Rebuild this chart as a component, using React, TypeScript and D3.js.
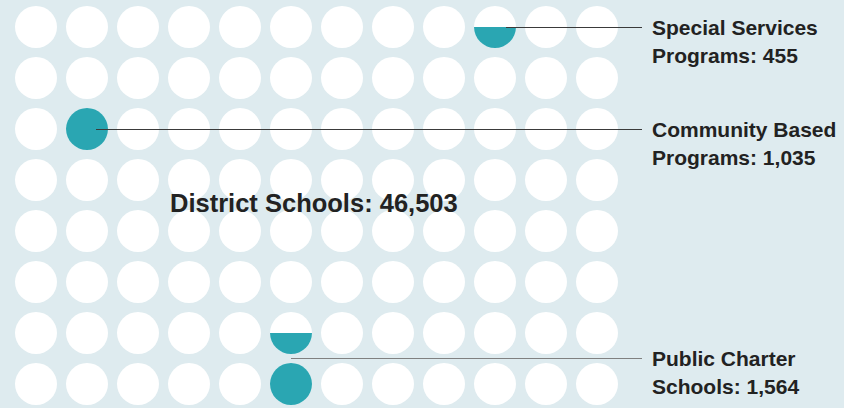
import React from "react";
import * as d3 from "d3";

const COLS = 12;
const ROWS = 8;
const categories = ["Special Services Programs", "Community Based Programs", "Public Charter Schools"];
const labelLines = [
  ["Special Services", "Programs: 455"],
  ["Community Based", "Programs: 1,035"],
  ["Public Charter", "Schools: 1,564"],
];
// [categoryIndex, col, row, filled fraction (from bottom)]
const highlightCells: [number, number, number, number][] = [
  [0, 9, 0, 0.5],
  [1, 1, 2, 1],
  [2, 5, 6, 0.5],
  [2, 5, 7, 1],
];
// leader line anchor: [col, row (cell units), start x offset]
const leaderAnchors: [number, number, number][] = [
  [9, 0, 11],
  [1, 2, 9],
  [5, 6.5, 0],
];
const mainLabel = "District Schools: 46,503";

const W = 844;
const H = 408;

export default function App() {
  const x = d3.scaleLinear().domain([0, COLS - 1]).range([36, 597]);
  const y = d3.scaleLinear().domain([0, ROWS - 1]).range([27, 384]);
  const r = 21;
  const cells = d3.cross(d3.range(COLS), d3.range(ROWS));
  const teal = "#2aa6b2";
  const labelX = 652;
  const lineEnd = 642;
  const font = "'Liberation Sans', Arial, sans-serif";
  return (
    <svg width={W} height={H} style={{ position: "absolute", left: 0, top: 0, background: "#deebef" }}>
      <defs>
        {highlightCells.map(([, c, rr, f], i) => (
          <clipPath id={`clip${i}`} key={i}>
            <rect x={x(c) - r} y={y(rr) + r - 2 * r * f} width={2 * r} height={2 * r * f} />
          </clipPath>
        ))}
      </defs>
      <rect x={0} y={0} width={W} height={H} fill="#deebef" />
      {cells.map(([c, rr]) => (
        <circle key={`${c}-${rr}`} cx={x(c)} cy={y(rr)} r={r} fill="#ffffff" />
      ))}
      {highlightCells.map(([, c, rr], i) => (
        <circle key={`h${i}`} cx={x(c)} cy={y(rr)} r={r} fill={teal} clipPath={`url(#clip${i})`} />
      ))}
      {leaderAnchors.map(([c, rr, dx], i) => {
        const ly = Math.floor(y(rr)) + 0.5;
        return (
          <g key={`l${i}`}>
            <line
              x1={x(c) + dx}
              x2={lineEnd}
              y1={ly}
              y2={ly}
              stroke={i === 2 ? "#808080" : "#3a3a3a"}
              strokeWidth={1.2}
            />
            {labelLines[i].map((t, k) => (
              <text
                key={k}
                x={labelX}
                y={ly + 7 + k * 28}
                fontFamily={font}
                fontWeight="bold"
                fontSize={21}
                fill="#222"
              >
                {t}
              </text>
            ))}
          </g>
        );
      })}
      <text x={170} y={212} fontFamily={font} fontWeight="bold" fontSize={25.5} fill="#222">
        {mainLabel}
      </text>
    </svg>
  );
}
